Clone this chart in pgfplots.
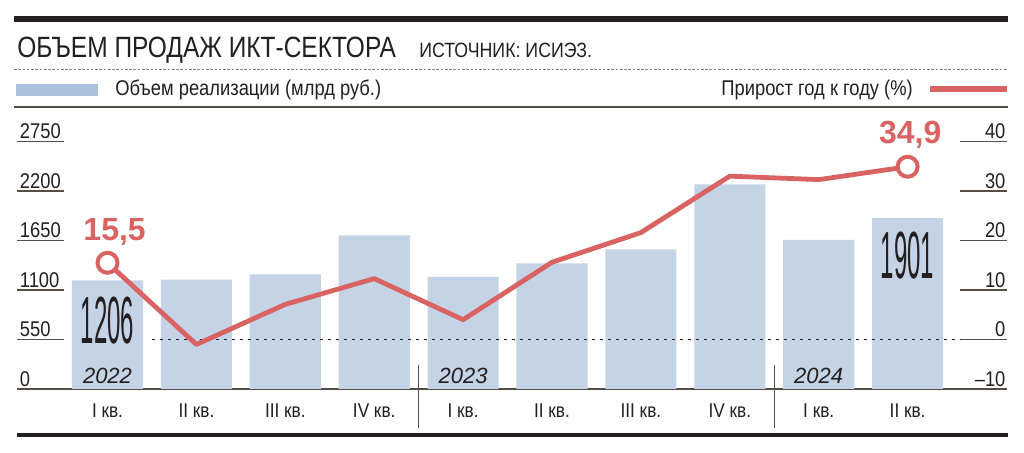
\documentclass[border=0pt]{standalone}
\usepackage{pgfplots}
\pgfplotsset{compat=1.18}
\usepackage{fontspec}
\setmainfont{Liberation Sans}
\newfontfamily\condfont[FakeStretch=0.86]{Liberation Sans}
\newfontfamily\titlefont[FakeStretch=0.835]{Liberation Sans}
\definecolor{barblue}{RGB}{196,211,230}
\definecolor{legblue}{RGB}{172,194,219}
\definecolor{redl}{RGB}{217,99,98}
\definecolor{txt}{RGB}{35,31,32}
\definecolor{rulec}{RGB}{85,78,70}
\begin{document}
\begin{tikzpicture}
\begin{scope}[x=0.75pt,y=0.75pt]
\path[use as bounding box] (0,0) rectangle (1024,453);
% header
\draw[txt, line width=4pt] (14,434) -- (1008,434);
\node[anchor=base west, inner sep=0pt, text=txt, font=\titlefont\fontsize{22pt}{26pt}\selectfont] at (17,395) {ОБЪЕМ ПРОДАЖ ИКТ-СЕКТОРА};
\node[anchor=base west, inner sep=0pt, text=txt, font=\condfont\fontsize{15.5pt}{18pt}\selectfont] at (419,395) {ИСТОЧНИК: ИСИЭЗ.};
\draw[gray, line width=0.7pt, dash pattern=on 2pt off 1.2pt] (14,384) -- (1008,384);
% legend
\fill[legblue] (16,357) rectangle (98,369);
\node[anchor=west, inner sep=0pt, text=txt, font=\condfont\fontsize{16pt}{19pt}\selectfont] at (115,363) {Объем реализации (млрд руб.)};
\node[anchor=east, inner sep=0pt, text=txt, font=\condfont\fontsize{16pt}{19pt}\selectfont] at (913,363) {Прирост год к году (\%)};
\draw[redl, line width=3.8pt] (930,364) -- (1007,364);
\draw[rulec, line width=1.1pt] (14,346) -- (1008,346);
% bottom rule
\draw[txt, line width=3.4pt] (17,18) -- (1008,18);
\end{scope}

\begin{axis}[
  at={(12.75pt,48pt)}, anchor=south west,
  width=742.5pt, height=211.5pt, scale only axis,
  xmin=-1.018, xmax=10.118, ymin=0, ymax=3133.3,
  axis x line*=bottom, axis y line*=left,
  axis line style={-},
  x axis line style={draw=rulec, line width=1.1pt},
  y axis line style={draw=none},
  xtick={0,...,9},
  xticklabels={I кв., II кв., III кв., IV кв., I кв., II кв., III кв., IV кв., I кв., II кв.},
  xtick style={draw=none},
  ytick={0,550,1100,1650,2200,2750},
  yticklabels={0,550,1100,1650,2200,2750},
  ytick style={draw=rulec, line width=0.9pt},
  tick align=inside, major tick length=35.25pt,
  yticklabel style={anchor=south west, font=\condfont\fontsize{16pt}{19pt}\selectfont, text=txt, inner xsep=2pt, inner ysep=1.8pt},
  xticklabel style={font=\condfont\fontsize{15pt}{18pt}\selectfont, text=txt, yshift=-7.5pt},
  clip=false,
]
\addplot[ybar, bar width=0.8, bar shift=0pt, fill=barblue, draw=none] coordinates {
(0,1206) (1,1215) (2,1274) (3,1708) (4,1246) (5,1397) (6,1552) (7,2274) (8,1656) (9,1901)};
\draw[rulec, line width=0.9pt] (axis cs:3.5,267) -- (axis cs:3.5,-433);
\draw[rulec, line width=0.9pt] (axis cs:7.5,267) -- (axis cs:7.5,-433);
\node[font=\itshape\fontsize{16.5pt}{19pt}\selectfont, text=txt] at (axis cs:0,150) {2022};
\node[font=\itshape\fontsize{16.5pt}{19pt}\selectfont, text=txt] at (axis cs:4,150) {2023};
\node[font=\itshape\fontsize{16.5pt}{19pt}\selectfont, text=txt] at (axis cs:8,150) {2024};
\node[xscale=0.36, font=\fontsize{50pt}{55pt}\selectfont, text=txt] at (axis cs:0,756) {1206};
\node[xscale=0.36, font=\fontsize{50pt}{55pt}\selectfont, text=txt] at (axis cs:9,1478) {1901};
\end{axis}

\begin{axis}[
  at={(12.75pt,48pt)}, anchor=south west,
  width=742.5pt, height=211.5pt, scale only axis,
  xmin=-1.018, xmax=10.118, ymin=-10, ymax=46.97,
  axis x line=none, axis y line*=right,
  axis line style={-},
  y axis line style={draw=none},
  ytick={-10,0,10,20,30,40},
  yticklabels={–10,0,10,20,30,40},
  ytick style={draw=rulec, line width=0.9pt},
  tick align=inside, major tick length=35.25pt,
  yticklabel style={anchor=south east, font=\condfont\fontsize{16pt}{19pt}\selectfont, text=txt, inner xsep=1pt, inner ysep=1.8pt},
  clip=false,
]
\draw[txt, line width=0.6pt, dash pattern=on 2.6pt off 3.4pt] (axis cs:0.5,0) -- (axis cs:9.59,0);
\addplot[redl, line width=3.6pt, line join=round, mark=none] coordinates {
(0,15.5) (1,-1.0) (2,7.1) (3,12.3) (4,4.0) (5,15.6) (6,21.6) (7,33.0) (8,32.3) (9,34.9)};
\addplot[only marks, mark=*, mark size=7.5pt, mark options={fill=white, draw=redl, line width=3pt}] coordinates {(0,15.5) (9,34.9)};
\node[font=\bfseries\fontsize{24pt}{28pt}\selectfont, text=redl] at (axis cs:0.08,21.7) {15,5};
\node[font=\bfseries\fontsize{24pt}{28pt}\selectfont, text=redl] at (axis cs:9.03,41.3) {34,9};
\end{axis}
\end{tikzpicture}
\end{document}
